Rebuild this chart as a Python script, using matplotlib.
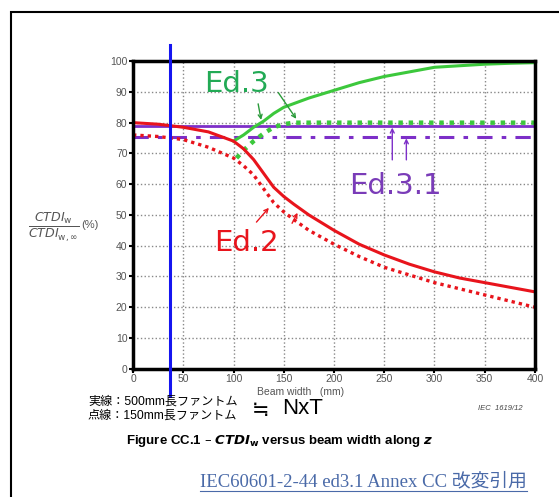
import numpy as np
import matplotlib.pyplot as plt
from matplotlib.patches import Rectangle

# Ed.2 (500 mm phantom, solid) and 150 mm phantom (dotted)
ed2_x = [0, 25, 50, 75, 100, 110, 120, 130, 140, 150, 160, 175, 200, 225, 250, 275, 300, 325, 350, 375, 400]
ed2_solid = [80, 79.5, 78.5, 77, 74, 71.5, 68, 63.5, 59, 56, 53.5, 50, 45, 40.5, 37, 34, 31.5, 29.5, 28, 26.5, 25]
ed2_dotted = [76, 75.5, 74.5, 72, 68.5, 66, 63, 58.5, 54, 51, 48.5, 45, 40.5, 36.5, 33, 30.5, 28, 26, 24, 22, 20]

# Ed.3
ed3_solid_x = [100, 110, 120, 130, 140, 150, 175, 200, 225, 250, 275, 300, 325, 350, 375, 400]
ed3_solid = [74, 76, 78.5, 80.5, 83, 85, 88, 90.5, 93, 95, 96.5, 98, 98.5, 99, 99.3, 99.5]
ed3_dot_x = [103, 110, 120, 130, 140, 150, 160, 200, 300, 400]
ed3_dotted = [68.5, 71, 74, 76.5, 78.5, 79.5, 80, 80, 80, 80]

# Ed.3.1 (constant)
ed31_x = [0, 400]
ed31_solid = [79, 79]
ed31_dashdot = [75.5, 75.5]

nxt = 37  # where the N×T marker is drawn

RED = '#e8141c'
GREEN = '#3cc83c'
PURPLE = '#7d2fc8'
BLUE = '#1515f0'

fig = plt.figure(figsize=(5.59, 4.97), dpi=100)
plt.rcParams['font.family'] = ['Liberation Sans', 'Noto Sans CJK JP', 'DejaVu Sans']

# outer frame
fig.patches.append(Rectangle((11 / 559, -0.1), 1.2, 1 - 12 / 497 + 0.1, transform=fig.transFigure,
                             fill=False, edgecolor='black', lw=1.5))

ax = fig.add_axes([0.238, 0.258, 0.719, 0.619])
ax.set_xlim(0, 400)
ax.set_ylim(0, 100)
ax.set_xticks(np.arange(0, 401, 50))
ax.set_yticks(np.arange(0, 101, 10))
ax.grid(True, linestyle=':', color='#888888', lw=1)
for s in ax.spines.values():
    s.set_linewidth(2.5)
ax.tick_params(direction='out', length=3, width=1.5, colors='black', labelcolor='#555555', labelsize=7.5, pad=1)

ax.plot(ed31_x, ed31_solid, color=PURPLE, lw=2, solid_capstyle='butt')
ax.plot(ed31_x, ed31_dashdot, color=PURPLE, lw=2.2, dashes=(5, 3, 1.5, 3))
ax.plot(ed3_solid_x, ed3_solid, color=GREEN, lw=2.2)
ax.plot(ed3_dot_x, ed3_dotted, color=GREEN, lw=3.2, linestyle=(0, (1, 1.3)))
ax.plot(ed2_x, ed2_solid, color=RED, lw=2.2)
ax.plot(ed2_x, ed2_dotted, color=RED, lw=2.4, linestyle=(0, (1, 1.2)))

ax.plot([nxt, nxt], [105.2, -9], color=BLUE, lw=2.2, clip_on=False, zorder=5)
ax.annotate('N×T = 40 mm', xy=(nxt + 1, 104), xytext=(222, 462), textcoords='figure pixels',
            va='center', ha='left', fontsize=14, family='Liberation Serif',
            arrowprops=dict(arrowstyle='->', lw=2, color='black', shrinkA=3, shrinkB=0, mutation_scale=18))

# series labels
ax.text(71, 92.5, 'Ed.3', color='#22aa55', fontsize=21, family='DejaVu Sans', va='center')
ax.text(81, 41, 'Ed.2', color=RED, fontsize=21, family='DejaVu Sans', va='center')
ax.text(215, 59.5, 'Ed.3.1', color='#7a3cb8', fontsize=21, family='DejaVu Sans', va='center')

# pointer arrows
arw = dict(arrowstyle='->', lw=1, mutation_scale=7)
ax.annotate('', xy=(128, 80), xytext=(124, 87), arrowprops=dict(arw, color='#2a9a3a'))
ax.annotate('', xy=(164, 80.5), xytext=(143, 90.5), arrowprops=dict(arw, color='#2a9a3a'))
ax.annotate('', xy=(258, 79.3), xytext=(258, 67), arrowprops=dict(arw, color=PURPLE))
ax.annotate('', xy=(272, 75.8), xytext=(272, 67), arrowprops=dict(arw, color=PURPLE))
ax.annotate('', xy=(137, 53), xytext=(121, 47), arrowprops=dict(arw, color=RED))
ax.annotate('', xy=(165, 51.5), xytext=(157, 46.5), arrowprops=dict(arw, color=RED))

# y label
fig.text(28 / 559, 1 - 227 / 497, r'$\frac{CTDI_{\mathrm{w}}}{CTDI_{\mathrm{w},\infty}}$', color='#555555',
         fontsize=13, va='center', ha='left')
fig.text(81 / 559, 1 - 225 / 497, '(%)', color='#555555', fontsize=8, va='center')
fig.text(0.537, 1 - 392 / 497, 'Beam width   (mm)', color='#555555', fontsize=7.5, ha='center', va='center')

fig.text(88 / 559, 1 - 402 / 497, '実線：500mm長ファントム', fontsize=8.7, va='center')
fig.text(88 / 559, 1 - 416 / 497, '点線：150mm長ファントム', fontsize=8.7, va='center')
fig.text(252 / 559, 1 - 410 / 497, '≒', fontsize=15, va='center', family='DejaVu Sans')
fig.text(282 / 559, 1 - 409 / 497, 'NxT', fontsize=16, va='center')
fig.text(478 / 559, 1 - 409 / 497, 'IEC  1619/12', fontsize=5.5, style='italic', color='#444444', va='center')
fig.text(0.5, 1 - 441 / 497, r'Figure CC.1 – $\mathbfit{CTDI}_{\mathbf{w}}$ versus beam width along $\mathbfit{z}$',
         fontsize=9.5, fontweight='bold', ha='center', va='center')
fig.text(527 / 559, 1 - 481 / 497, 'IEC60601-2-44 ed3.1 Annex CC 改変引用', fontsize=13.5, color='#4a6aa8',
         ha='right', va='center', family=['Liberation Serif', 'Noto Sans CJK JP'])
fig.add_artist(plt.Line2D([200 / 559, 527 / 559], [1 - 491 / 497] * 2, color='#4a6aa8', lw=0.8))

fig.savefig('out.png', dpi=100)
